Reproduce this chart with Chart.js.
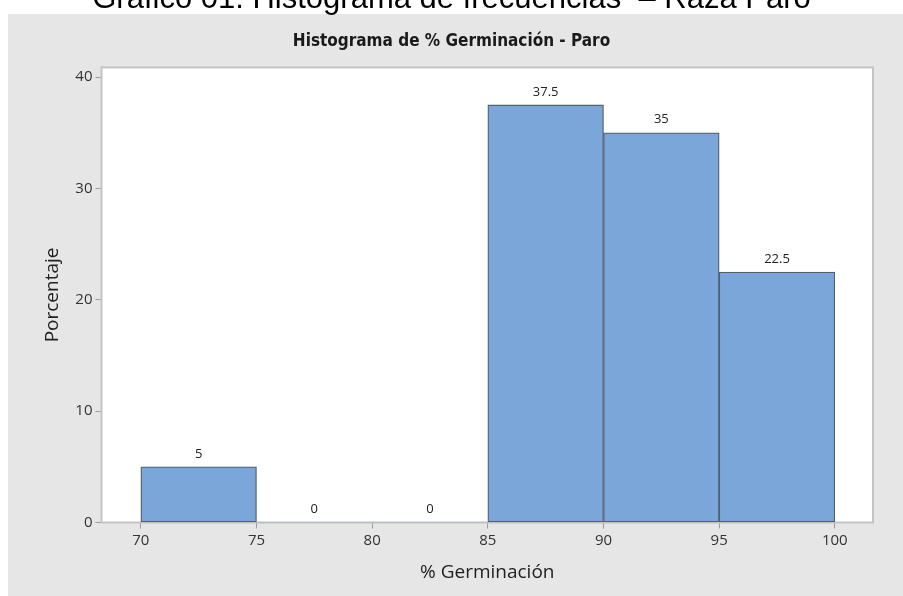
<!DOCTYPE html>
<html>
<head>
<meta charset="utf-8">
<title>Histograma de % Germinación - Paro</title>
<script src="https://cdn.jsdelivr.net/npm/chart.js@4.4.1/dist/chart.umd.min.js"></script>
<style>
    html, body { margin: 0; padding: 0; background: #fff; }
    #wrap { position: relative; width: 903px; height: 596px; overflow: hidden; }
    #caption {
        position: absolute; left: 0; top: -18px; width: 903px;
        text-align: center; font-family: 'Liberation Sans', Arial, sans-serif;
        font-size: 31px; line-height: 31px; color: #000; white-space: nowrap;
    }
    canvas { position: absolute; left: 0; top: 0; }
</style>
</head>
<body>
<div id="wrap">
    <canvas id="myChart" width="903" height="596"></canvas>
    <div id="caption">Gráfico 01: Histograma de frecuencias &nbsp;– Raza Paro</div>
</div>
<script>
// Data

var binCenters = [72.5, 77.5, 82.5, 87.5, 92.5, 97.5];
var percentages = [5, 0, 0, 37.5, 35, 22.5];
var xTicks = [70, 75, 80, 85, 90, 95, 100];
var yTicks = [0, 10, 20, 30, 40];

// Plugins

var panelBg = {
    id: 'panelBg',
    beforeDraw: function (chart) {
        var c = chart.ctx, a = chart.chartArea;
        c.save();
        c.fillStyle = '#e6e6e6';
        c.fillRect(8, 14, 895, 582);
        c.fillStyle = '#ffffff';
        c.fillRect(a.left, a.top, a.right - a.left, a.bottom - a.top);
        c.restore();
    },
    beforeDatasetsDraw: function (chart) {
        var c = chart.ctx, a = chart.chartArea;
        c.save();
        c.strokeStyle = '#c4c4c4';
        c.lineWidth = 2;
        c.strokeRect(a.left, a.top, a.right - a.left, a.bottom - a.top);
        c.restore();
    }
};

var barLabels = {
    id: 'barLabels',
    afterDatasetsDraw: function (chart) {
        var c = chart.ctx;
        var meta = chart.getDatasetMeta(0);
        c.save();
        c.font = '13px "Open Sans", sans-serif';
        c.fillStyle = '#222';
        c.textAlign = 'center';
        c.textBaseline = 'middle';
        meta.data.forEach(function (bar, i) {
            c.fillText(String(percentages[i]), bar.x, bar.y - 13);
        });
        c.restore();
    }
};

// Graph

var ctx = document.getElementById('myChart').getContext('2d');
var chart = new Chart(ctx, {
    type: 'bar',
    data: {
        datasets: [{
            label: 'Porcentaje',
            data: binCenters.map(function (x, i) { return { x: x, y: percentages[i] }; }),
            backgroundColor: '#7ba6d9',
            borderColor: '#56606c',
            borderWidth: function (c) { return c.raw && c.raw.y === 0 ? 0 : 1.3; },
            borderSkipped: false,
            barPercentage: 1,
            categoryPercentage: 1
        }]
    },
    options: {
        responsive: false,
        animation: false,
        layout: { padding: { left: 30, right: 30, top: 0, bottom: 0 } },
        plugins: {
            legend: { display: false },
            tooltip: { enabled: false },
            title: {
                display: true,
                text: 'Histograma de % Germinación - Paro',
                color: '#1a1a1a',
                font: { family: '"Liberation Sans Narrow", "DejaVu Sans Condensed", sans-serif', size: 17, weight: 'bold' },
                padding: { top: 31, bottom: 16 }
            }
        },
        scales: {
            x: {
                type: 'linear',
                offset: false,
                min: 68.3,
                max: 101.65,
                afterBuildTicks: function (s) { s.ticks = xTicks.map(function (v) { return { value: v }; }); },
                afterFit: function (s) { s.height = 73.5; },
                grid: { offset: false, drawOnChartArea: false, drawTicks: true, tickLength: 6, color: '#9c9c9c' },
                border: { display: false },
                ticks: { color: '#333', padding: 3, maxRotation: 0, font: { family: '"Open Sans", sans-serif', size: 15 } },
                title: {
                    display: true,
                    text: '% Germinación',
                    color: '#222',
                    font: { family: '"Open Sans", sans-serif', size: 19 },
                    padding: { top: 0, bottom: 12 }
                }
            },
            y: {
                min: 0,
                max: 40.87,
                afterBuildTicks: function (s) { s.ticks = yTicks.map(function (v) { return { value: v }; }); },
                afterFit: function (s) { s.width = 71.5; },
                grid: { drawOnChartArea: false, drawTicks: true, tickLength: 6, color: '#9c9c9c' },
                border: { display: false },
                ticks: { color: '#333', padding: 3, font: { family: '"Open Sans", sans-serif', size: 15 } },
                title: {
                    display: true,
                    text: 'Porcentaje',
                    color: '#222',
                    font: { family: '"Open Sans", sans-serif', size: 19 },
                    padding: { top: 11, bottom: 0 }
                }
            }
        }
    },
    plugins: [panelBg, barLabels]
});
</script>
</body>
</html>
